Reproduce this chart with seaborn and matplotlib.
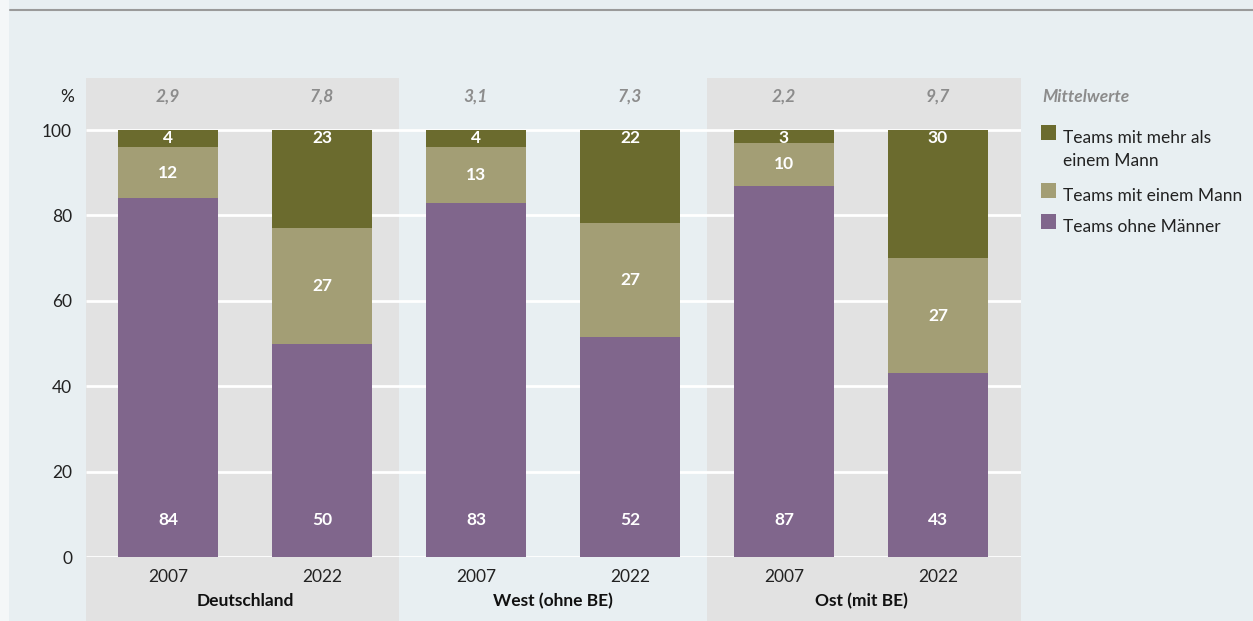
import numpy as np
import pandas as pd
import matplotlib
matplotlib.use('Agg')
import matplotlib.pyplot as plt
from matplotlib.patches import Rectangle
from matplotlib.lines import Line2D
import matplotlib.transforms as mtransforms
import seaborn as sns

# Data
groups = ['Deutschland', 'West (ohne BE)', 'Ost (mit BE)']
years = ['2007', '2022']
ohne_maenner = [84, 50, 83, 51.5, 87, 43]
ein_mann = [12, 27, 13, 26.7, 10, 27]
mehr_als_ein = [4, 23, 4, 21.8, 3, 30]
mittelwerte = ['2,9', '7,8', '3,1', '7,3', '2,2', '9,7']
series_names = ['Teams mit mehr als\neinem Mann', 'Teams mit einem Mann', 'Teams ohne Männer']

BG = '#E8EFF2'
BAND = '#E2E2E2'
C_DARK = '#6B6B2E'
C_LIGHT = '#A39E75'
C_PURPLE = '#80668C'
MEAN_C = '#8C8C8C'
colors = [C_DARK, C_LIGHT, C_PURPLE]
FS = 12.5

keys = [f'{g} {y}' for g in groups for y in years]
df = pd.DataFrame({
    'key': keys,
    'ohne': ohne_maenner,
    'ein': ein_mann,
    'mehr': mehr_als_ein,
})
df['b_ein'] = df['ohne']
df['b_mehr'] = df['ohne'] + df['ein']

sns.set_theme(style='white')
plt.rcParams['font.family'] = ['Lato', 'DejaVu Sans']

W, H = 1253, 621
fig = plt.figure(figsize=(W / 100, H / 100), dpi=100, facecolor=BG)

# light strip at far left and top rule
fig.patches.append(Rectangle((0, 0), 9 / W, 1, transform=fig.transFigure,
                             facecolor='#F4F7F8', edgecolor='none', zorder=0))
fig.lines.append(Line2D([10 / W, 1], [1 - 10 / H, 1 - 10 / H], transform=fig.transFigure,
                        color='#9A9A9A', lw=1.5))

# axes: x px 86..1021, y px 78..557 (0 at 557, 100 at 130)
px_per = (557 - 130) / 100
ax_top = 78
ax = fig.add_axes([86 / W, 1 - 557 / H, (1021 - 86) / W, (557 - ax_top) / H])
ax.set_facecolor('none')
ymax = (557 - ax_top) / px_per
ax.set_ylim(0, ymax)

order = keys
bar_kw = dict(order=order, width=0.65, saturation=1, ax=ax, zorder=3, linewidth=0)
sns.barplot(data=df, x='key', y='ohne', color=C_PURPLE, **bar_kw)
sns.barplot(data=df, x='key', y='ein', bottom=df['b_ein'], color=C_LIGHT, **bar_kw)
sns.barplot(data=df, x='key', y='mehr', bottom=df['b_mehr'], color=C_DARK, **bar_kw)

xl = (86 - 168) / 154
xr = (1021 - 168) / 154
ax.set_xlim(xl, xr)

# shaded panels for Deutschland and Ost
for lo, hi in [(xl, 1.5), (3.5, xr)]:
    ax.axvspan(lo, hi, ymin=-0.3, ymax=1, facecolor=BAND, edgecolor='none',
               clip_on=False, zorder=0)

# gridlines
for v in range(0, 101, 20):
    ax.plot([xl, xr], [v, v], color='white', lw=2, zorder=1, solid_capstyle='butt')

for s in ax.spines.values():
    s.set_visible(False)
ax.set_yticks(range(0, 101, 20))
ax.set_yticklabels([str(v) for v in range(0, 101, 20)])
ax.tick_params(axis='y', length=0, pad=10, labelsize=FS, labelcolor='#222222')
ax.set_xticks(range(6))
ax.set_xticklabels([y for g in groups for y in years])
ax.tick_params(axis='x', length=0, pad=9, labelsize=FS, labelcolor='#222222')
ax.set_xlabel('')
ax.set_ylabel('')

# group names
trans = mtransforms.blended_transform_factory(ax.transData, fig.transFigure)
for i, g in enumerate(groups):
    ax.text(2 * i + 0.5, 1 - 601 / H, g, transform=trans, ha='center', va='center',
            fontsize=FS, fontweight='bold', color='#111111')

# value labels
for i in range(6):
    o, e, m = ohne_maenner[i], ein_mann[i], mehr_als_ein[i]
    top = o + e + m
    ax.text(i, top - 1.9, f'{m:.0f}', ha='center', va='center', color='white',
            fontsize=FS, fontweight='bold', zorder=5)
    ax.text(i, o + e / 2, f'{e:.0f}', ha='center', va='center', color='white',
            fontsize=FS, fontweight='bold', zorder=5)
    ax.text(i, 8.7, f'{o:.0f}', ha='center', va='center', color='white',
            fontsize=FS, fontweight='bold', zorder=5)
    ax.text(i, (557 - 97) / px_per, mittelwerte[i], ha='center', va='center',
            color=MEAN_C, fontsize=FS, fontstyle='italic', fontweight='bold', zorder=5)

ax.text(-0.61, (557 - 97) / px_per, '%', ha='right', va='center', fontsize=FS,
        color='#222222', clip_on=False)

# legend drawn by hand
fig.text(1042 / W, 1 - 97 / H, 'Mittelwerte', ha='left', va='center', fontsize=FS,
         fontstyle='italic', fontweight='bold', color=MEAN_C)
leg_y = [132, 190, 221]
for c, name, yy in zip(colors, series_names, leg_y):
    fig.patches.append(Rectangle((1041 / W, 1 - (yy + 8) / H), 15 / W, 15 / H,
                                 transform=fig.transFigure, facecolor=c, edgecolor='none'))
    fig.text(1063 / W, 1 - (yy - 2) / H, name, ha='left', va='top', fontsize=FS,
             color='#222222', linespacing=1.55)

fig.savefig('out.png', dpi=100, facecolor=BG)
